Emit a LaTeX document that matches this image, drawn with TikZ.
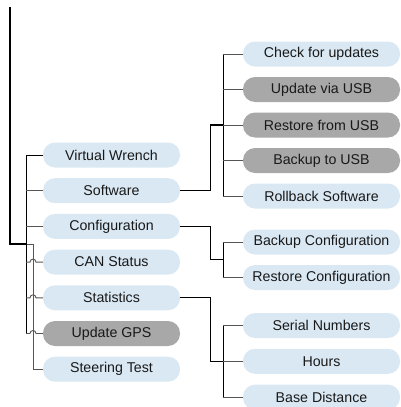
\documentclass[tikz,border=0pt]{standalone}
\usepackage{fontspec}
\setmainfont{Liberation Sans}
\usepackage{tikz}
\usetikzlibrary{calc}
\usepackage{xcolor}
\definecolor{menublue}{HTML}{D9E8F3}
\definecolor{menugrey}{HTML}{A8A8A8}
\definecolor{linegrey}{HTML}{555555}

\begin{document}
\begin{tikzpicture}[
    x=1pt, y=-1pt,
    font=\fontsize{14.2}{16}\selectfont,
    item/.style={rounded corners=12pt, inner sep=0pt, minimum height=25pt, text=black!90},
    lefti/.style={item, fill=menublue, minimum width=137pt},
    righti/.style={item, fill=menublue, minimum width=157pt},
    off/.style={fill=menugrey},
    root/.style={black, line width=1.5pt},
    trunk/.style={black, line width=1.3pt},
    bus/.style={black, line width=0.9pt},
    br/.style={linegrey, line width=0.9pt}]

  \useasboundingbox (0,0) rectangle (401,407);

  % main menu
  \node[lefti] (vw) at (111.5,155.0) {Virtual Wrench};
  \node[lefti] (sw) at (111.5,190.7) {Software};
  \node[lefti] (cfg) at (111.5,226.4) {Configuration};
  \node[lefti] (can) at (111.5,262.1) {CAN Status};
  \node[lefti] (stat) at (111.5,297.8) {Statistics};
  \node[lefti, off] (gps) at (111.5,333.5) {Update GPS};
  \node[lefti] (steer) at (111.5,369.2) {Steering Test};

  % software submenu
  \node[righti] (chk) at (321.5,54.0) {Check for updates};
  \node[righti, off] (usbup) at (321.5,89.5) {Update via USB};
  \node[righti, off] (usbrest) at (321.5,125.0) {Restore from USB};
  \node[righti, off] (usbback) at (321.5,160.5) {Backup to USB};
  \node[righti] (rollb) at (321.5,196.0) {Rollback Software};

  % configuration submenu
  \node[righti] (cfgback) at (321.5,242.0) {Backup Configuration};
  \node[righti] (cfgrest) at (321.5,277.5) {Restore Configuration};

  % statistics submenu
  \node[righti] (serial) at (321.5,325.5) {Serial Numbers};
  \node[righti] (hours) at (321.5,361.3) {Hours};
  \node[righti] (basedist) at (321.5,397.1) {Base Distance};

  \coordinate (top) at (10,7);
  \coordinate (busx) at (26,0);
  \coordinate (jx) at (223,0);
  \coordinate (cfgmid) at ($(jx |- cfgback.west)!0.5!(jx |- cfgrest.west)$);

  % left side
  \draw[root] (top) |- (busx |- 0,244);
  \draw[br] (busx |- 0,244) -- (33,244) |- (steer.west);
  \draw[bus] (vw.west) -| (busx |- gps.west);
  \draw[br] (busx |- sw.west) -- (sw.west);
  \draw[br] (busx |- cfg.west) -- (cfg.west);
  \draw[br] (busx |- can.west) -- ++(4,0) arc[start angle=180, end angle=0, radius=3pt] -- (can.west);
  \draw[br] (busx |- stat.west) -- ++(4,0) arc[start angle=180, end angle=0, radius=3pt] -- (stat.west);
  \draw[br] (busx |- gps.west) -- ++(4,0) arc[start angle=180, end angle=0, radius=3pt] -- (gps.west);

  % right side
  \draw[trunk] (sw.east) -- ++(30,0) |- (jx |- usbrest.west);
  \draw[trunk] (cfg.east) -- ++(30,0) |- (cfgmid);
  \draw[trunk] (stat.east) -- ++(30,0) |- (jx |- hours.west);
  \draw[bus] (jx |- chk.west) -- (jx |- rollb.west);
  \draw[bus] (jx |- cfgback.west) -- (jx |- cfgrest.west);
  \draw[bus] (jx |- serial.west) -- (jx |- basedist.west);
  \draw[br] (jx |- chk.west) -- (chk.west);
  \draw[br] (jx |- usbup.west) -- (usbup.west);
  \draw[br] (jx |- usbrest.west) -- (usbrest.west);
  \draw[br] (jx |- usbback.west) -- (usbback.west);
  \draw[br] (jx |- rollb.west) -- (rollb.west);
  \draw[br] (jx |- cfgback.west) -- (cfgback.west);
  \draw[br] (jx |- cfgrest.west) -- (cfgrest.west);
  \draw[br] (jx |- serial.west) -- (serial.west);
  \draw[br] (jx |- hours.west) -- (hours.west);
  \draw[br] (jx |- basedist.west) -- (basedist.west);
\end{tikzpicture}
\end{document}
